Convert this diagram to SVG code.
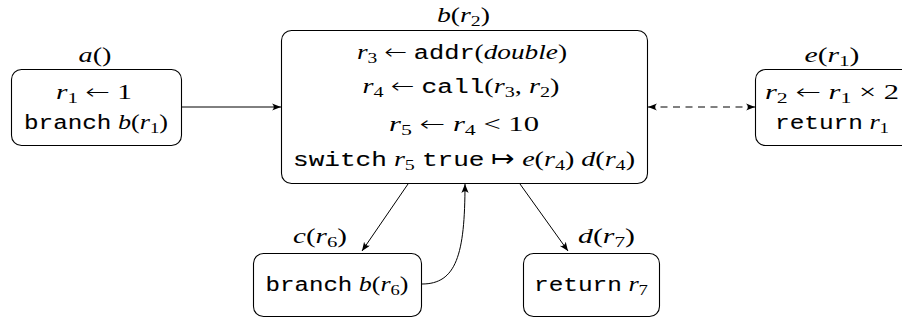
<svg xmlns="http://www.w3.org/2000/svg" width="902" height="321" viewBox="0 0 902 321">
<style>
text { font-family: "Liberation Serif", serif; font-size: 21px; fill: #000; text-anchor: middle; }
.i { font-style: italic; }
.t { font-family: "Liberation Mono", monospace; font-size: 19.5px; stroke: #000; stroke-width: 0.1; }
.s { font-size: 15px; }
.ar { font-family: "DejaVu Sans", sans-serif; font-size: 21px; font-weight: 200; }
.box { fill: #fff; stroke: #000; stroke-width: 1.1; }
.edge { fill: none; stroke: #000; stroke-width: 1; }
.dash { stroke-dasharray: 7 5.5; }
</style>
<defs>
<marker id="ah" viewBox="0 0 10 8" refX="10" refY="4" markerWidth="9" markerHeight="7.2" markerUnits="userSpaceOnUse" orient="auto-start-reverse">
<path d="M0,0 Q4,4 0,8 L10,4 Z" fill="#000"/>
</marker>
</defs>
<rect width="902" height="321" fill="#fff"/>
<g id="connectors">
<line class="edge" x1="182" y1="107" x2="281" y2="107" marker-end="url(#ah)"/>
<line class="edge dash" x1="648" y1="107" x2="755" y2="107" marker-start="url(#ah)" marker-end="url(#ah)"/>
<line class="edge" x1="408" y1="184" x2="362" y2="251" marker-end="url(#ah)"/>
<line class="edge" x1="520" y1="184" x2="568" y2="251" marker-end="url(#ah)"/>
<path class="edge" d="M422,284 C456,284 465,255 465,184" marker-end="url(#ah)"/>
</g>
<g id="node-a">
<rect class="box" x="11.5" y="69.5" width="170" height="76" rx="10"/>
<text transform="translate(95,62) scale(1.25,1)" textLength="26.4" lengthAdjust="spacingAndGlyphs"><tspan class="i">a</tspan>()</text>
<text transform="translate(94,99) scale(1.25,1)" textLength="60.8" lengthAdjust="spacingAndGlyphs"><tspan class="i">r</tspan><tspan class="s" dy="4">1</tspan><tspan dy="-4"> </tspan><tspan class="ar">←</tspan> 1</text>
<text transform="translate(96,129) scale(1.25,1)" textLength="115.2" lengthAdjust="spacingAndGlyphs"><tspan class="t">branch</tspan> <tspan class="i">b</tspan>(<tspan class="i">r</tspan><tspan class="s" dy="4">1</tspan><tspan dy="-4">)</tspan></text>
</g>
<g id="node-b">
<rect class="box" x="281.5" y="30.5" width="366" height="153" rx="10"/>
<text transform="translate(463.5,22) scale(1.25,1)" textLength="42.4" lengthAdjust="spacingAndGlyphs"><tspan class="i">b</tspan>(<tspan class="i">r</tspan><tspan class="s" dy="4">2</tspan><tspan dy="-4">)</tspan></text>
<text transform="translate(462,59) scale(1.25,1)" textLength="168" lengthAdjust="spacingAndGlyphs"><tspan class="i">r</tspan><tspan class="s" dy="4">3</tspan><tspan dy="-4"> </tspan><tspan class="ar">←</tspan> <tspan class="t">addr</tspan>(<tspan class="i">double</tspan>)</text>
<text transform="translate(461,93) scale(1.25,1)" textLength="157.6" lengthAdjust="spacingAndGlyphs"><tspan class="i">r</tspan><tspan class="s" dy="4">4</tspan><tspan dy="-4"> </tspan><tspan class="ar">←</tspan> <tspan class="t">call</tspan>(<tspan class="i">r</tspan><tspan class="s" dy="4">3</tspan><tspan dy="-4">, </tspan><tspan class="i">r</tspan><tspan class="s" dy="4">2</tspan><tspan dy="-4">)</tspan></text>
<text transform="translate(464,131) scale(1.25,1)" textLength="120" lengthAdjust="spacingAndGlyphs"><tspan class="i">r</tspan><tspan class="s" dy="4">5</tspan><tspan dy="-4"> </tspan><tspan class="ar">←</tspan> <tspan class="i">r</tspan><tspan class="s" dy="4">4</tspan><tspan dy="-4"> &lt; 10</tspan></text>
<text transform="translate(464,166) scale(1.25,1)" textLength="273.6" lengthAdjust="spacingAndGlyphs"><tspan class="t">switch</tspan> <tspan class="i">r</tspan><tspan class="s" dy="4">5</tspan><tspan dy="-4"> </tspan><tspan class="t">true</tspan> <tspan class="ar">↦</tspan> <tspan class="i">e</tspan>(<tspan class="i">r</tspan><tspan class="s" dy="4">4</tspan><tspan dy="-4">) </tspan><tspan class="i">d</tspan>(<tspan class="i">r</tspan><tspan class="s" dy="4">4</tspan><tspan dy="-4">)</tspan></text>
</g>
<g id="node-e">
<rect class="box" x="755.5" y="69.5" width="160" height="76" rx="10"/>
<text transform="translate(832,62) scale(1.25,1)" textLength="44" lengthAdjust="spacingAndGlyphs"><tspan class="i">e</tspan>(<tspan class="i">r</tspan><tspan class="s" dy="4">1</tspan><tspan dy="-4">)</tspan></text>
<text transform="translate(832,99) scale(1.25,1)" textLength="107.2" lengthAdjust="spacingAndGlyphs"><tspan class="i">r</tspan><tspan class="s" dy="4">2</tspan><tspan dy="-4"> </tspan><tspan class="ar">←</tspan> <tspan class="i">r</tspan><tspan class="s" dy="4">1</tspan><tspan dy="-4"> × 2</tspan></text>
<text transform="translate(832,129) scale(1.25,1)" textLength="91.2" lengthAdjust="spacingAndGlyphs"><tspan class="t">return</tspan> <tspan class="i">r</tspan><tspan class="s" dy="4">1</tspan></text>
</g>
<g id="node-c">
<rect class="box" x="253.5" y="253.5" width="168" height="63" rx="10"/>
<text transform="translate(320,243) scale(1.25,1)" textLength="43.2" lengthAdjust="spacingAndGlyphs"><tspan class="i">c</tspan>(<tspan class="i">r</tspan><tspan class="s" dy="4">6</tspan><tspan dy="-4">)</tspan></text>
<text transform="translate(337,291) scale(1.25,1)" textLength="114.4" lengthAdjust="spacingAndGlyphs"><tspan class="t">branch</tspan> <tspan class="i">b</tspan>(<tspan class="i">r</tspan><tspan class="s" dy="4">6</tspan><tspan dy="-4">)</tspan></text>
</g>
<g id="node-d">
<rect class="box" x="523.5" y="253.5" width="136" height="63" rx="10"/>
<text transform="translate(606.5,243) scale(1.25,1)" textLength="45.6" lengthAdjust="spacingAndGlyphs"><tspan class="i">d</tspan>(<tspan class="i">r</tspan><tspan class="s" dy="4">7</tspan><tspan dy="-4">)</tspan></text>
<text transform="translate(591,291) scale(1.25,1)" textLength="91.2" lengthAdjust="spacingAndGlyphs"><tspan class="t">return</tspan> <tspan class="i">r</tspan><tspan class="s" dy="4">7</tspan></text>
</g>
</svg>
